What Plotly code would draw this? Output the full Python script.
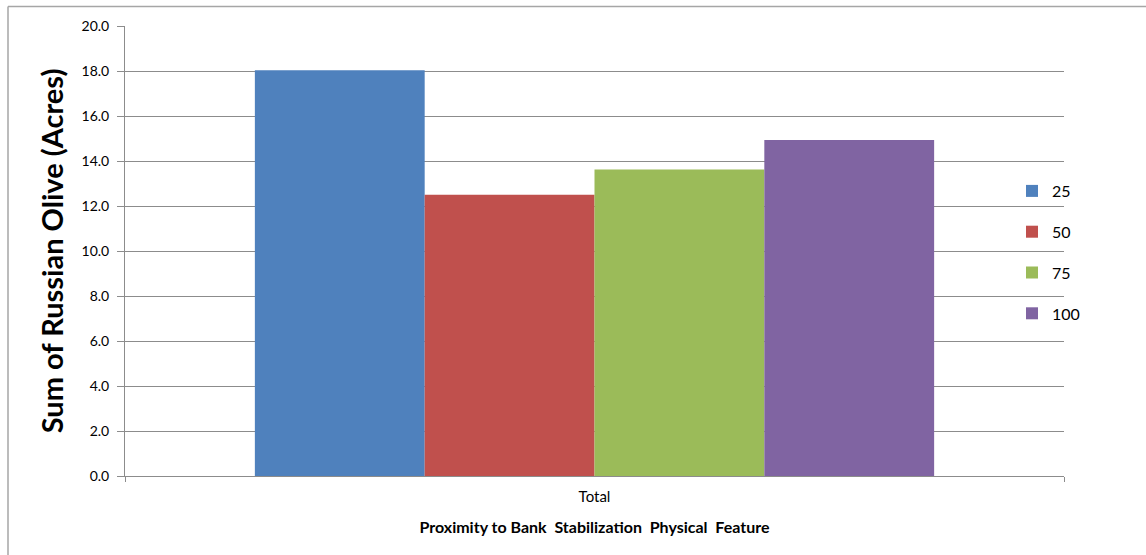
import plotly.graph_objects as go

# Data
categories = ["Total"]
series_names = ["25", "50", "75", "100"]
series_values = [[18.03], [12.50], [13.62], [14.93]]
series_colors = ["#4F81BD", "#C0504D", "#9BBB59", "#8064A2"]

y_ticks = [0, 2, 4, 6, 8, 10, 12, 14, 16, 18, 20]

FONT = "Lato, Open Sans, sans-serif"
GRID = "#8c8c8c"
NB = "\u00a0"

fig = go.Figure()
for name, vals, color in zip(series_names, series_values, series_colors):
    fig.add_trace(go.Bar(
        x=categories, y=vals, name=name, legendgroup=name,
        marker=dict(color=color, line=dict(width=0)),
    ))

# plot area in pixels: x 125..1064, y 26..476
L, R, T, B = 125, 1146 - 1064, 26, 555 - 476
W, H = 1146 - L - R, 555 - T - B


def px_x(p):
    return (p - L) / W


def px_y(p):
    return (555 - B - p) / H


x_title = f"<b>Proximity to Bank {NB}Stabilization {NB}Physical {NB}Feature</b>"

fig.update_layout(
    width=1146, height=555,
    margin=dict(l=L, r=R, t=T, b=B, autoexpand=False),
    paper_bgcolor="white", plot_bgcolor="white",
    font=dict(family=FONT, color="#000000"),
    barmode="group", bargap=0.2766, bargroupgap=0,
    showlegend=True,
    legend=dict(
        x=px_x(1012), xanchor="left",
        y=px_y(174), yanchor="top",
        font=dict(size=16, family=FONT),
        bgcolor="rgba(0,0,0,0)",
        tracegroupgap=17,
        itemwidth=30,
    ),
    xaxis=dict(
        type="category",
        tickson="boundaries",
        ticks="outside", ticklen=5, tickcolor=GRID,
        showline=True, linecolor=GRID, linewidth=1,
        showgrid=False,
        ticklabelstandoff=7,
        tickfont=dict(size=15, family=FONT),
        title=dict(text=x_title, font=dict(size=16, family=FONT), standoff=17),
    ),
    yaxis=dict(
        range=[0, 20], tickvals=y_ticks, tickformat=".1f",
        ticks="outside", ticklen=7, tickcolor=GRID,
        showline=True, linecolor=GRID, linewidth=1,
        showgrid=True, gridcolor=GRID, gridwidth=1,
        zeroline=False,
        ticklabelstandoff=5,
        tickfont=dict(size=14, family=FONT),
        title=dict(text="<b>Sum of Russian Olive (Acres)</b>",
                   font=dict(size=29, family=FONT), standoff=9),
    ),
    shapes=[
        dict(type="line", xref="paper", yref="paper",
             x0=px_x(8), x1=px_x(1150), y0=px_y(6.5), y1=px_y(6.5),
             line=dict(color="#a6a6a6", width=1.5)),
        dict(type="line", xref="paper", yref="paper",
             x0=px_x(8), x1=px_x(8), y0=px_y(6.5), y1=px_y(560),
             line=dict(color="#a6a6a6", width=1.5)),
    ],
)

fig.write_html("out.html")
